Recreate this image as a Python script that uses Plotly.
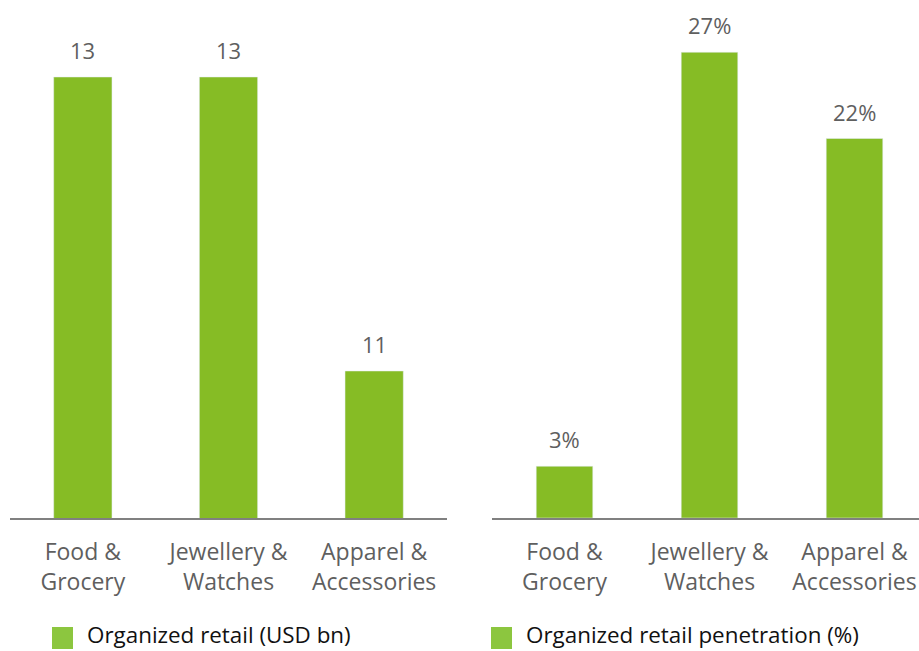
import plotly.graph_objects as go

categories = ["Food &<br>Grocery", "Jewellery &<br>Watches", "Apparel &<br>Accessories"]
retail_usd_bn = [13, 13, 11]
penetration_pct = [3, 27, 22]
retail_labels = ["13", "13", "11"]
penetration_labels = ["3%", "27%", "22%"]
legend_names = ["Organized retail (USD bn)", "Organized retail penetration (%)"]

GREEN = "#86BC25"
LEG_GREEN = "#8CC63F"
GRAY_TXT = "#5F5F5F"
FONT = "Open Sans"

W, H = 919, 651
plot_h = 518  # axis line sits at y = 518


def px_x(x):
    return x / W


def px_y(y):
    return (plot_h - y) / plot_h


fig = go.Figure()
fig.add_trace(go.Bar(x=categories, y=retail_usd_bn, marker_color=GREEN,
                     width=0.4, xaxis="x", yaxis="y", showlegend=False,
                     name=legend_names[0], hoverinfo="skip"))
fig.add_trace(go.Bar(x=categories, y=penetration_pct, marker_color=GREEN,
                     width=0.39, xaxis="x2", yaxis="y2", showlegend=False,
                     name=legend_names[1], hoverinfo="skip"))

annotations = []
for c, v, t in zip(categories, retail_usd_bn, retail_labels):
    annotations.append(dict(x=c, y=v, xref="x", yref="y", text=t, showarrow=False,
                            yanchor="bottom", yshift=10,
                            font=dict(family=FONT, size=22, color=GRAY_TXT)))
for c, v, t in zip(categories, penetration_pct, penetration_labels):
    annotations.append(dict(x=c, y=v, xref="x2", yref="y2", text=t, showarrow=False,
                            yanchor="bottom", yshift=10,
                            font=dict(family=FONT, size=22, color=GRAY_TXT)))
# legend
annotations.append(dict(x=px_x(85), y=px_y(635), xref="paper", yref="paper",
                        text=legend_names[0], showarrow=False, xanchor="left",
                        yanchor="middle",
                        font=dict(family=FONT, size=22.4, color="#111111")))
annotations.append(dict(x=px_x(524), y=px_y(635), xref="paper", yref="paper",
                        text=legend_names[1], showarrow=False, xanchor="left",
                        yanchor="middle",
                        font=dict(family=FONT, size=22.4, color="#111111")))

shapes = [
    dict(type="rect", xref="paper", yref="paper", x0=px_x(52), x1=px_x(73),
         y0=px_y(649), y1=px_y(627), fillcolor=LEG_GREEN, line=dict(width=0)),
    dict(type="rect", xref="paper", yref="paper", x0=px_x(491), x1=px_x(512),
         y0=px_y(649), y1=px_y(627), fillcolor=LEG_GREEN, line=dict(width=0)),
]

axis_common = dict(showgrid=False, zeroline=False, showline=True, linecolor="#808080",
                   linewidth=2, ticks="outside", ticklen=12, tickcolor="rgba(0,0,0,0)",
                   tickfont=dict(family=FONT, size=23, color=GRAY_TXT), fixedrange=True)

fig.update_layout(
    width=W, height=H,
    margin=dict(l=0, r=0, t=0, b=H - plot_h, pad=0),
    paper_bgcolor="white", plot_bgcolor="white",
    font=dict(family=FONT),
    xaxis=dict(domain=[px_x(10), px_x(447)], range=[-0.5, 2.5], anchor="y", **axis_common),
    yaxis=dict(domain=[0, 1], range=[10, 10 + plot_h / 147], visible=False, fixedrange=True),
    xaxis2=dict(domain=[px_x(492), 1], range=[-0.5, -0.5 + 427 / 145], anchor="y2",
                **axis_common),
    yaxis2=dict(domain=[0, 1], range=[0, plot_h / 17.25], visible=False, anchor="x2",
                fixedrange=True),
    annotations=annotations,
    shapes=shapes,
    bargap=0.6,
    hovermode=False,
)

fig.write_html(
    "out.html",
    config={"displayModeBar": False},
    post_script="document.body.style.margin='0';document.body.style.overflow='hidden';",
)
